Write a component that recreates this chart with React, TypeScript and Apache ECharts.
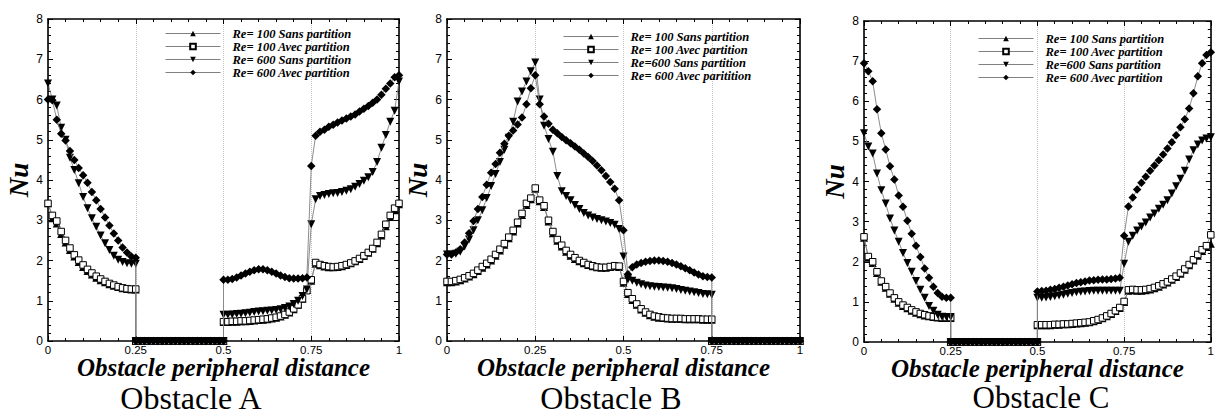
import React, { useEffect, useRef } from "react";
import * as echarts from "echarts";

const X_0_25 = [0, 0.0125, 0.025, 0.0375, 0.05, 0.0625, 0.075, 0.0875, 0.1, 0.1125, 0.125, 0.1375, 0.15, 0.1625, 0.175, 0.1875, 0.2, 0.2125, 0.225, 0.2375, 0.25];
const X_25_50 = [0.25, 0.2625, 0.275, 0.2875, 0.3, 0.3125, 0.325, 0.3375, 0.35, 0.3625, 0.375, 0.3875, 0.4, 0.4125, 0.425, 0.4375, 0.45, 0.4625, 0.475, 0.4875, 0.5];
const X_50_100 = [0.5, 0.5125, 0.525, 0.5375, 0.55, 0.5625, 0.575, 0.5875, 0.6, 0.6125, 0.625, 0.6375, 0.65, 0.6625, 0.675, 0.6875, 0.7, 0.7125, 0.725, 0.7375, 0.75, 0.7625, 0.775, 0.7875, 0.8, 0.8125, 0.825, 0.8375, 0.85, 0.8625, 0.875, 0.8875, 0.9, 0.9125, 0.925, 0.9375, 0.95, 0.9625, 0.975, 0.9875, 1];
const X_0_75 = [0, 0.0125, 0.025, 0.0375, 0.05, 0.0625, 0.075, 0.0875, 0.1, 0.1125, 0.125, 0.1375, 0.15, 0.1625, 0.175, 0.1875, 0.2, 0.2125, 0.225, 0.2375, 0.25, 0.2625, 0.275, 0.2875, 0.3, 0.3125, 0.325, 0.3375, 0.35, 0.3625, 0.375, 0.3875, 0.4, 0.4125, 0.425, 0.4375, 0.45, 0.4625, 0.475, 0.4875, 0.5, 0.5125, 0.525, 0.5375, 0.55, 0.5625, 0.575, 0.5875, 0.6, 0.6125, 0.625, 0.6375, 0.65, 0.6625, 0.675, 0.6875, 0.7, 0.7125, 0.725, 0.7375, 0.75];
const X_75_100 = [0.75, 0.7625, 0.775, 0.7875, 0.8, 0.8125, 0.825, 0.8375, 0.85, 0.8625, 0.875, 0.8875, 0.9, 0.9125, 0.925, 0.9375, 0.95, 0.9625, 0.975, 0.9875, 1];
const ZERO_21 = [0, 0, 0, 0, 0, 0, 0, 0, 0, 0, 0, 0, 0, 0, 0, 0, 0, 0, 0, 0, 0];

const X_TICKS = [0, 0.25, 0.5, 0.75, 1];

// ---------- Obstacle A ----------
const A_S100_1 = [3.42, 3.05, 2.92, 2.66, 2.45, 2.26, 2.1, 1.96, 1.84, 1.74, 1.65, 1.57, 1.51, 1.46, 1.41, 1.37, 1.34, 1.31, 1.29, 1.28, 1.28];
const A_A100_1 = [3.42, 3.12, 2.98, 2.72, 2.5, 2.31, 2.14, 2.01, 1.89, 1.78, 1.69, 1.61, 1.54, 1.48, 1.43, 1.39, 1.35, 1.32, 1.3, 1.29, 1.29];
const A_S600_1 = [6.4, 6.0, 5.85, 5.3, 5.0, 4.55, 4.25, 3.92, 3.58, 3.3, 3.05, 2.84, 2.62, 2.43, 2.26, 2.12, 2.02, 1.96, 1.93, 1.92, 1.92];
const A_A600_1 = [6.0, 5.98, 5.5, 5.15, 4.98, 4.72, 4.5, 4.3, 4.12, 3.93, 3.7, 3.5, 3.28, 3.07, 2.87, 2.67, 2.5, 2.32, 2.2, 2.1, 2.07];
const A_S100_3 = [0.47, 0.47, 0.48, 0.48, 0.49, 0.49, 0.5, 0.51, 0.52, 0.53, 0.54, 0.56, 0.58, 0.61, 0.65, 0.71, 0.79, 0.9, 1.05, 1.27, 1.5, 1.92, 1.88, 1.85, 1.83, 1.83, 1.84, 1.86, 1.89, 1.93, 1.98, 2.04, 2.11, 2.19, 2.29, 2.43, 2.62, 2.85, 3.08, 3.25, 3.4];
const A_A100_3 = [0.48, 0.48, 0.49, 0.49, 0.5, 0.5, 0.51, 0.52, 0.53, 0.54, 0.55, 0.57, 0.59, 0.62, 0.66, 0.72, 0.8, 0.9, 1.05, 1.25, 1.52, 1.95, 1.9, 1.87, 1.85, 1.84, 1.85, 1.87, 1.9, 1.94, 1.99, 2.05, 2.12, 2.2, 2.3, 2.45, 2.65, 2.9, 3.12, 3.3, 3.42];
const A_S600_3 = [0.65, 0.65, 0.66, 0.67, 0.68, 0.69, 0.7, 0.72, 0.73, 0.74, 0.75, 0.76, 0.77, 0.79, 0.82, 0.86, 0.92, 1.0, 1.12, 1.28, 2.9, 3.52, 3.6, 3.63, 3.65, 3.67, 3.68, 3.7, 3.73, 3.77, 3.83, 3.9, 3.98, 4.07, 4.2, 4.45, 4.8, 5.12, 5.45, 5.72, 6.45];
const A_A600_3 = [1.52, 1.52, 1.54, 1.58, 1.63, 1.68, 1.72, 1.76, 1.78, 1.78, 1.76, 1.72, 1.68, 1.63, 1.59, 1.56, 1.55, 1.55, 1.56, 1.58, 4.35, 5.1, 5.2, 5.25, 5.32, 5.37, 5.43, 5.48, 5.53, 5.58, 5.63, 5.7, 5.77, 5.84, 5.92, 6.0, 6.12, 6.27, 6.4, 6.55, 6.6];

// ---------- Obstacle B ----------
const B_S100 = [1.46, 1.46, 1.48, 1.51, 1.55, 1.6, 1.66, 1.74, 1.82, 1.9, 2.0, 2.12, 2.25, 2.39, 2.55, 2.72, 2.92, 3.13, 3.38, 3.52, 3.78, 3.47, 3.33, 2.97, 2.68, 2.49, 2.35, 2.22, 2.12, 2.04, 1.98, 1.93, 1.89, 1.86, 1.83, 1.82, 1.82, 1.84, 1.86, 1.84, 1.45, 1.17, 1.02, 0.9, 0.78, 0.7, 0.64, 0.6, 0.58, 0.57, 0.56, 0.55, 0.55, 0.55, 0.54, 0.54, 0.54, 0.54, 0.53, 0.53, 0.53];
const B_A100 = [1.48, 1.48, 1.5, 1.53, 1.57, 1.62, 1.68, 1.76, 1.85, 1.93, 2.03, 2.15, 2.28, 2.42, 2.58, 2.75, 2.95, 3.17, 3.42, 3.55, 3.8, 3.5, 3.36, 3.0, 2.72, 2.52, 2.38, 2.25, 2.15, 2.07, 2.0, 1.95, 1.9, 1.87, 1.84, 1.83, 1.83, 1.85, 1.87, 1.86, 1.48, 1.2, 1.05, 0.92, 0.8, 0.72, 0.66, 0.62, 0.6, 0.58, 0.57, 0.56, 0.56, 0.56, 0.55, 0.55, 0.55, 0.55, 0.54, 0.54, 0.54];
const B_S600 = [2.15, 2.15, 2.17, 2.22, 2.35, 2.52, 2.75, 3.0, 3.25, 3.55, 3.85, 4.15, 4.45, 4.75, 5.05, 5.45, 5.95, 6.2, 6.45, 6.7, 6.92, 6.0, 5.35, 5.02, 4.7, 4.1, 3.72, 3.6, 3.5, 3.38, 3.28, 3.18, 3.12, 3.07, 3.03, 3.0, 2.97, 2.93, 2.89, 2.78, 2.1, 1.53, 1.5, 1.45, 1.41, 1.38, 1.36, 1.35, 1.34, 1.33, 1.32, 1.31, 1.29, 1.27, 1.25, 1.23, 1.21, 1.19, 1.17, 1.16, 1.15];
const B_A600 = [2.15, 2.15, 2.2, 2.28, 2.45, 2.68, 2.98, 3.28, 3.58, 3.88, 4.18, 4.4, 4.68, 4.9, 5.1, 5.23, 5.38, 5.55, 5.88, 6.28, 6.6, 5.88, 5.58, 5.4, 5.25, 5.16, 5.07, 4.99, 4.91, 4.83, 4.75, 4.66, 4.57, 4.47, 4.36, 4.24, 4.1, 3.95, 3.78, 3.5, 2.75, 1.66, 1.83, 1.9, 1.94, 1.97, 1.99, 2.0, 2.0, 1.99, 1.97, 1.94, 1.9, 1.86, 1.81, 1.76, 1.7, 1.65, 1.61, 1.59, 1.58];

// ---------- Obstacle C ----------
const C_S100_1 = [2.6, 2.1, 1.97, 1.72, 1.5, 1.35, 1.2, 1.08, 0.98, 0.9, 0.84, 0.78, 0.73, 0.69, 0.66, 0.64, 0.62, 0.61, 0.6, 0.6, 0.6];
const C_A100_1 = [2.62, 2.13, 2.0, 1.75, 1.52, 1.38, 1.22, 1.1, 1.0, 0.92, 0.86, 0.8, 0.75, 0.71, 0.68, 0.65, 0.63, 0.62, 0.61, 0.61, 0.61];
const C_S600_1 = [5.2, 4.87, 4.7, 4.2, 3.78, 3.45, 3.08, 2.78, 2.5, 2.22, 1.97, 1.75, 1.52, 1.3, 1.1, 0.9, 0.78, 0.68, 0.63, 0.62, 0.62];
const C_A600_1 = [6.95, 6.75, 6.5, 5.8, 5.2, 4.8, 4.38, 4.05, 3.65, 3.37, 3.02, 2.7, 2.4, 2.12, 1.83, 1.6, 1.38, 1.22, 1.13, 1.1, 1.1];
const C_S100_3 = [0.42, 0.42, 0.42, 0.42, 0.43, 0.43, 0.44, 0.44, 0.45, 0.46, 0.47, 0.48, 0.49, 0.52, 0.55, 0.59, 0.64, 0.7, 0.77, 0.85, 1.0, 1.28, 1.29, 1.28, 1.28, 1.29, 1.31, 1.34, 1.38, 1.43, 1.48, 1.55, 1.62, 1.7, 1.8, 1.91, 2.03, 2.15, 2.27, 2.37, 2.45];
const C_A100_3 = [0.43, 0.43, 0.43, 0.43, 0.44, 0.44, 0.45, 0.45, 0.46, 0.47, 0.48, 0.49, 0.5, 0.53, 0.56, 0.6, 0.65, 0.71, 0.78, 0.86, 1.01, 1.3, 1.31, 1.3, 1.3, 1.31, 1.33, 1.36, 1.4, 1.45, 1.5, 1.57, 1.64, 1.72, 1.82, 1.93, 2.05, 2.18, 2.3, 2.4, 2.67];
const C_S600_3 = [1.1, 1.1, 1.11, 1.12, 1.14, 1.16, 1.18, 1.2, 1.22, 1.24, 1.25, 1.26, 1.27, 1.28, 1.28, 1.28, 1.28, 1.28, 1.28, 1.28, 1.95, 2.5, 2.65, 2.78, 2.88, 2.98, 3.1, 3.2, 3.32, 3.42, 3.53, 3.7, 3.88, 4.07, 4.27, 4.55, 4.78, 4.92, 5.02, 5.07, 5.1];
const C_A600_3 = [1.26, 1.27, 1.28, 1.3, 1.32, 1.35, 1.38, 1.41, 1.44, 1.47, 1.49, 1.51, 1.53, 1.54, 1.55, 1.56, 1.56, 1.57, 1.58, 1.6, 2.65, 3.38, 3.6, 3.8, 3.97, 4.12, 4.27, 4.4, 4.53, 4.67, 4.82, 4.98, 5.15, 5.35, 5.55, 5.82, 6.2, 6.62, 6.95, 7.15, 7.22];

// ---------- labels ----------
const NAMES_A = ["Re= 100 Sans partition", "Re= 100 Avec partition", "Re= 600 Sans partition", "Re= 600 Avec partition"];
const NAMES_B = ["Re= 100 Sans partition", "Re= 100 Avec partition", "Re=600 Sans partition", "Re= 600 Avec paritition"];
const NAMES_C = ["Re= 100 Sans partition", "Re= 100 Avec partition", "Re=600 Sans partition", "Re= 600 Avec partition"];
const CAPTIONS = ["Obstacle A", "Obstacle B", "Obstacle C"];
const X_TITLE = "Obstacle peripheral distance";
const Y_TITLE = "Nu";

const pairs = (xs: number[], ys: number[]) => xs.map((x, i) => [x, ys[i]]);

const GRIDS = [
  { left: 48, top: 19, width: 351, height: 322 },
  { left: 447, top: 19, width: 353, height: 322 },
  { left: 864, top: 21, width: 352, height: 321 },
];
const LEGEND_POS = [
  { left: 165, top: 27 },
  { left: 563, top: 30 },
  { left: 978, top: 32 },
];
const CAPTION_X = [191, 611, 1041];
const CAPTION_TOP = [384.5, 384.5, 384.5];
const CAPTION_SIZE = [32, 32, 31];

const SERIF = "'Liberation Serif', 'Times New Roman', serif";
const SANS = "'Liberation Sans', Arial, sans-serif";

const MARKERS = [
  { symbol: "triangle", symbolSize: 8, symbolRotate: 0, itemStyle: { color: "#000" } },
  { symbol: "rect", symbolSize: 6.5, symbolRotate: 0, itemStyle: { color: "#fff", borderColor: "#000", borderWidth: 1 } },
  { symbol: "triangle", symbolSize: 8, symbolRotate: 180, itemStyle: { color: "#000" } },
  { symbol: "diamond", symbolSize: 8.5, symbolRotate: 0, itemStyle: { color: "#000" } },
];

function buildOption() {
  const panels = [
    {
      names: NAMES_A,
      data: [
        [...pairs(X_0_25, A_S100_1), ...pairs(X_25_50, ZERO_21), ...pairs(X_50_100, A_S100_3)],
        [...pairs(X_0_25, A_A100_1), ...pairs(X_25_50, ZERO_21), ...pairs(X_50_100, A_A100_3)],
        [...pairs(X_0_25, A_S600_1), ...pairs(X_25_50, ZERO_21), ...pairs(X_50_100, A_S600_3)],
        [...pairs(X_0_25, A_A600_1), ...pairs(X_25_50, ZERO_21), ...pairs(X_50_100, A_A600_3)],
      ],
    },
    {
      names: NAMES_B,
      data: [
        [...pairs(X_0_75, B_S100), ...pairs(X_75_100, ZERO_21)],
        [...pairs(X_0_75, B_A100), ...pairs(X_75_100, ZERO_21)],
        [...pairs(X_0_75, B_S600), ...pairs(X_75_100, ZERO_21)],
        [...pairs(X_0_75, B_A600), ...pairs(X_75_100, ZERO_21)],
      ],
    },
    {
      names: NAMES_C,
      data: [
        [...pairs(X_0_25, C_S100_1), ...pairs(X_25_50, ZERO_21), ...pairs(X_50_100, C_S100_3)],
        [...pairs(X_0_25, C_A100_1), ...pairs(X_25_50, ZERO_21), ...pairs(X_50_100, C_A100_3)],
        [...pairs(X_0_25, C_S600_1), ...pairs(X_25_50, ZERO_21), ...pairs(X_50_100, C_S600_3)],
        [...pairs(X_0_25, C_A600_1), ...pairs(X_25_50, ZERO_21), ...pairs(X_50_100, C_A600_3)],
      ],
    },
  ];

  const grid: any[] = [];
  const xAxis: any[] = [];
  const yAxis: any[] = [];
  const series: any[] = [];
  const legend: any[] = [];
  const title: any[] = [];

  const tickBase = {
    axisTick: { show: true, inside: true, length: 5, lineStyle: { color: "#000", width: 1 } },
    minorTick: { show: true, splitNumber: 5, length: 3, lineStyle: { color: "#000", width: 1 } },
    axisLine: { show: true, onZero: false, lineStyle: { color: "#000", width: 1.6 } },
  };

  panels.forEach((p, gi) => {
    grid.push({ ...GRIDS[gi], containLabel: false, show: false });
    // bottom x
    xAxis.push({
      gridIndex: gi,
      type: "value",
      min: 0,
      max: 1,
      interval: 0.25,
      position: "bottom",
      name: X_TITLE,
      nameLocation: "middle",
      nameGap: 16.5,
      nameMoveOverlap: false,
      nameTextStyle: { fontFamily: SERIF, fontStyle: "italic", fontWeight: "bold", fontSize: 25, lineHeight: 20, color: "#000" },
      ...tickBase,
      axisLabel: {
        margin: 3,
        fontSize: 11.5,
        lineHeight: 12,
        color: "#000",
        fontFamily: SANS,
        formatter: (v: number) => (X_TICKS.includes(v) ? String(v) : ""),
      },
      splitLine: { show: true, lineStyle: { color: "#c4c4c4", type: "dotted", width: 1 } },
    });
    // top x
    xAxis.push({
      gridIndex: gi,
      type: "value",
      min: 0,
      max: 1,
      interval: 0.25,
      position: "top",
      ...tickBase,
      axisLabel: { show: false },
      splitLine: { show: false },
    });
    // left y
    yAxis.push({
      gridIndex: gi,
      type: "value",
      min: 0,
      max: 8,
      interval: 1,
      position: "left",
      name: Y_TITLE,
      nameLocation: "middle",
      nameGap: 12,
      nameTextStyle: { fontFamily: SERIF, fontStyle: "italic", fontWeight: "bold", fontSize: 27, color: "#000" },
      ...tickBase,
      axisLabel: { margin: 5, fontSize: 12, color: "#000", fontFamily: SANS },
      splitLine: { show: false },
    });
    // right y
    yAxis.push({
      gridIndex: gi,
      type: "value",
      min: 0,
      max: 8,
      interval: 1,
      position: "right",
      ...tickBase,
      axisLabel: { show: false },
      splitLine: { show: false },
    });

    p.names.forEach((name, si) => {
      const m = MARKERS[si];
      series.push({
        type: "line",
        name,
        xAxisIndex: gi * 2,
        yAxisIndex: gi * 2,
        data: p.data[si],
        symbol: m.symbol,
        symbolSize: m.symbolSize,
        symbolRotate: m.symbolRotate,
        showAllSymbol: true,
        itemStyle: m.itemStyle,
        lineStyle: { color: "#808080", width: 0.9 },
        z: 3 + si,
      });
    });

    legend.push({
      orient: "vertical",
      left: LEGEND_POS[gi].left,
      top: LEGEND_POS[gi].top,
      data: p.names,
      itemWidth: 55,
      itemHeight: 7,
      itemGap: 0,
      padding: 0,
      selectedMode: false,
      lineStyle: { width: 1, color: "#808080" },
      textStyle: {
        fontFamily: SERIF,
        fontStyle: "italic",
        fontWeight: "bold",
        fontSize: 12.5,
        lineHeight: 12.7,
        color: "#000",
        padding: [0, 0, 0, 7],
      },
    });

    title.push({
      text: CAPTIONS[gi],
      left: CAPTION_X[gi],
      textAlign: "center",
      top: CAPTION_TOP[gi],
      padding: 0,
      textStyle: { fontFamily: SERIF, fontWeight: "normal", fontSize: CAPTION_SIZE[gi], lineHeight: 26, color: "#000" },
    });
  });

  return {
    animation: false,
    backgroundColor: "#fff",
    title,
    legend,
    grid,
    xAxis,
    yAxis,
    series,
  };
}

export default function App() {
  const ref = useRef<HTMLDivElement>(null);
  useEffect(() => {
    if (!ref.current) return;
    const chart = echarts.init(ref.current, undefined, { renderer: "svg" });
    chart.setOption(buildOption() as any);
    return () => chart.dispose();
  }, []);
  return (
    <div
      ref={ref}
      style={{ position: "absolute", left: 0, top: 0, width: 1217, height: 414 }}
    />
  );
}
